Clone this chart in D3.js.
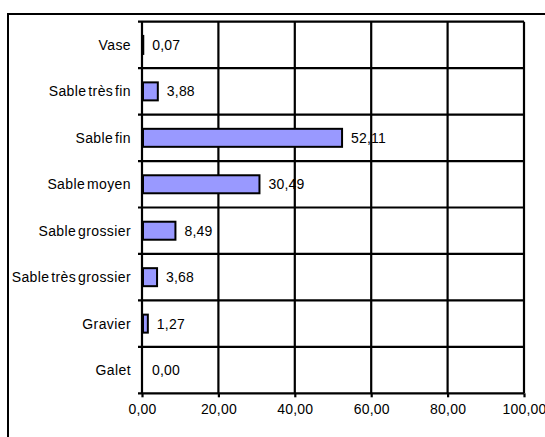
<!DOCTYPE html>
<html>
<head>
<meta charset="utf-8">
<script src="https://cdn.jsdelivr.net/npm/d3@7"></script>
<style>
  body { margin: 0; background: #fff; }
  text { font-family: Arial, "Liberation Sans", sans-serif; fill: #000; }
</style>
</head>
<body>
<div id="chart"></div>
<script>
// data, top to bottom
const categories = ['Vase', 'Sable très fin', 'Sable fin', 'Sable moyen', 'Sable grossier', 'Sable très grossier', 'Gravier', 'Galet'];
const values = [0.07, 3.88, 52.11, 30.49, 8.49, 3.68, 1.27, 0.00];
const xTicks = [0, 20, 40, 60, 80, 100];

const svgWidth = 545;
const svgHeight = 437;
const plot = { left: 142, right: 524, top: 21.7, bottom: 393.3 };

const fr = d3.formatLocale({ decimal: ',', thousands: ' ', grouping: [3], currency: ['', ' €'] });
const fmt = fr.format('.2f');

const svg = d3.select('#chart').append('svg')
    .attr('width', svgWidth)
    .attr('height', svgHeight);

// outer frame (runs off the right and bottom edges)
svg.append('rect')
    .attr('x', 8).attr('y', 14)
    .attr('width', 700).attr('height', 600)
    .attr('fill', 'none')
    .attr('stroke', '#000')
    .attr('stroke-width', 2);

const x = d3.scaleLinear().domain([0, 100]).range([plot.left, plot.right]);
const y = d3.scaleBand().domain(categories).range([plot.top, plot.bottom]).padding(0);

const grid = svg.append('g').attr('stroke', '#000').attr('stroke-width', 2.2);

// vertical grid lines
grid.selectAll('line.v').data(xTicks).enter().append('line')
    .attr('class', 'v')
    .attr('x1', d => x(d)).attr('x2', d => x(d))
    .attr('y1', plot.top).attr('y2', plot.bottom);

// horizontal lines at category boundaries, with small ticks left of the axis
const bounds = categories.map(c => y(c)).concat([plot.bottom]);
grid.selectAll('line.h').data(bounds).enter().append('line')
    .attr('class', 'h')
    .attr('x1', plot.left - 4).attr('x2', plot.right)
    .attr('y1', d => d).attr('y2', d => d);

// bottom axis
const xAxis = svg.append('g')
    .attr('transform', `translate(0,${plot.bottom})`)
    .call(d3.axisBottom(x).tickValues(xTicks).tickFormat(fmt).tickSize(4).tickPadding(7));
xAxis.select('.domain').remove();
xAxis.selectAll('line').attr('stroke', '#000').attr('stroke-width', 2.2);
xAxis.selectAll('text')
    .style('font-size', '14px')
    .style('font-family', 'Arial, "Liberation Sans", sans-serif')
    .style('letter-spacing', '0.2px');

// category labels
svg.append('g').selectAll('text').data(categories).enter().append('text')
    .attr('x', plot.left - 11)
    .attr('y', d => y(d) + y.bandwidth() / 2)
    .attr('dy', '0.35em')
    .attr('text-anchor', 'end')
    .style('font-size', '14px')
    .style('letter-spacing', '0.4px')
    .style('word-spacing', '-2.5px')
    .text(d => d);

// bars
const barH = 18;
svg.append('g').selectAll('rect').data(values).enter().append('rect')
    .filter(d => d > 0)
    .attr('x', x(0) + 1)
    .attr('y', (d, i) => y(categories[values.indexOf(d)]) + y.bandwidth() / 2 - barH / 2)
    .attr('width', d => x(d) - x(0))
    .attr('height', barH)
    .attr('fill', '#9999ff')
    .attr('stroke', '#000')
    .attr('stroke-width', 2);

// value labels
svg.append('g').selectAll('text').data(values).enter().append('text')
    .attr('x', d => x(d) + 10)
    .attr('y', (d, i) => y(categories[i]) + y.bandwidth() / 2)
    .attr('dy', '0.35em')
    .style('font-size', '14px')
    .style('letter-spacing', '0.2px')
    .text(d => fmt(d));
</script>
</body>
</html>
